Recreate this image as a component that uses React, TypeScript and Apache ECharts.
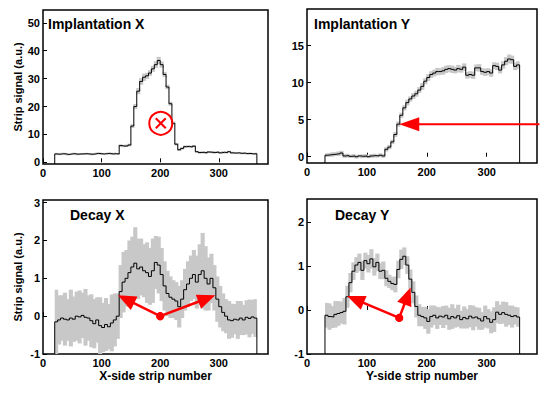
import React, { useEffect, useRef } from 'react';
import * as echarts from 'echarts';

const FONT = "'Liberation Sans', Arial, Helvetica, sans-serif";
const RED = '#ff0000';
const BAND = '#c8c8c8';

// Strip bins are 5 strips wide; each array starts at its first strip
const BIN_WIDTH = 5;
const X_AXIS_MAX = 384;
const X_TICK_STEP = 100;

// ---------- Implantation X ----------
const IMPL_X_FIRST_STRIP = 20;
const IMPL_X_SIGNAL = [
  3.0, 2.9, 3.1, 3.0, 2.8, 3.0, 3.1, 2.9, 3.0, 3.0, 3.1, 3.0, 2.9, 3.0, 3.2, 3.1, 3.0, 3.1, 3.2, 3.0, 3.1, 3.0,
  6.0, 5.8, 5.9, 6.2,
  13, 20, 25.5, 29, 30.5, 31, 32, 33.5, 35, 36.5, 35, 31.5, 27, 21, 14, 6.5, 4.5, 5.0, 5.6, 5.7, 5.5, 5.8,
  3.8, 3.5, 3.6, 3.4, 3.7, 3.6, 3.5, 3.7, 3.4, 3.6, 3.5, 3.8, 3.4, 3.3, 3.4, 3.2, 3.3, 3.1, 3.2, 3.0, 3.1,
];
const IMPL_X_ERROR = [
  0.4, 0.35, 0.35, 0.4, 0.35, 0.3, 0.35, 0.4, 0.35, 0.35, 0.3, 0.35, 0.4, 0.35, 0.35, 0.4, 0.35, 0.3, 0.35, 0.4, 0.35, 0.35,
  0.45, 0.4, 0.45, 0.5,
  0.7, 0.9, 1.1, 1.2, 1.3, 1.1, 1.0, 1.1, 1.2, 1.3, 1.1, 0.9, 0.8, 0.7, 0.6, 0.5, 0.45, 0.4, 0.45, 0.4, 0.45, 0.4,
  0.35, 0.4, 0.35, 0.4, 0.35, 0.35, 0.4, 0.35, 0.35, 0.4, 0.35, 0.35, 0.4, 0.35, 0.3, 0.35, 0.35, 0.3, 0.35, 0.3, 0.35,
];
const IMPL_X_MARKER = [[201, 14]];

// ---------- Implantation Y ----------
const IMPL_Y_FIRST_STRIP = 30;
const IMPL_Y_SIGNAL = [
  0.2, 0.25, 0.3, 0.35, 0.4, 0.5, 0.1, 0.15, 0.05, 0.1, 0.0, 0.1, 0.05, 0.1, 0.0, 0.1, 0.15, 0.1, 0.2, 0.1,
  1.0, 1.3, 2.0, 3.0, 4.4, 5.6, 6.6, 7.3, 7.8, 8.2, 8.5, 9.0, 9.5, 10.2, 10.7, 11.1, 11.3, 11.5, 11.5, 11.6,
  11.8, 11.9, 11.8, 11.7, 11.9, 11.8, 12.1, 11.0, 11.1, 11.0, 12.0, 12.0, 11.5, 11.4, 11.5, 11.3, 12.3, 12.2, 11.7,
  12.4, 12.9, 13.2, 13.1, 12.2, 12.4,
];
const IMPL_Y_ERROR = [
  0.25, 0.25, 0.3, 0.25, 0.3, 0.3, 0.25, 0.25, 0.2, 0.25, 0.25, 0.2, 0.25, 0.25, 0.2, 0.25, 0.25, 0.2, 0.25, 0.25,
  0.3, 0.3, 0.3, 0.35, 0.35, 0.35, 0.35, 0.4, 0.35, 0.4, 0.4, 0.4, 0.45, 0.4, 0.45, 0.45, 0.45, 0.5, 0.45, 0.5,
  0.5, 0.45, 0.5, 0.45, 0.5, 0.45, 0.5, 0.45, 0.45, 0.5, 0.45, 0.5, 0.45, 0.5, 0.45, 0.5, 0.45, 0.5, 0.45, 0.5,
  0.55, 0.6, 0.55, 0.5, 0.5,
];
// arrow: [tailStrip, tailSignal, tipStrip, tipSignal]
const IMPL_Y_ARROWS = [[388, 4.4, 154, 4.4]];

// ---------- Decay X ----------
const DECAY_X_FIRST_STRIP = 20;
const DECAY_X_SIGNAL = [
  -0.15, -0.1, -0.05, -0.08, -0.1, -0.05, -0.08, 0.0, -0.02, 0.02, -0.03, -0.05, -0.12, -0.2, -0.1, -0.25, -0.3, -0.22,
  -0.28, -0.18, -0.1, 0.0,
  0.65, 0.9, 1.0, 1.15, 1.3, 1.4, 1.25, 1.3, 1.2, 1.15, 1.05, 1.2, 1.42, 1.35, 1.1, 0.8, 0.6,
  0.5, 0.45, 0.4, 0.25, 0.45, 0.7, 0.85, 1.0, 1.1, 0.9, 1.1, 1.2, 1.0, 0.85, 1.0, 0.75, 0.45, 0.25,
  0.1, 0.0, -0.1, -0.12, -0.08, -0.1, -0.05, -0.1, -0.03, -0.06, -0.02, -0.05,
];
const DECAY_X_ERROR = [
  0.85, 0.65, 0.6, 0.7, 0.55, 0.75, 0.6, 0.65, 0.7, 0.6, 0.75, 0.6, 0.7, 0.65, 0.6, 0.75, 0.65, 0.7, 0.6, 0.75, 0.7, 0.6,
  0.7, 0.8, 0.75, 0.85, 0.8, 0.95, 0.8, 0.75, 0.7, 0.8, 0.75, 0.85, 0.7, 0.75, 0.7, 0.65, 0.6,
  0.55, 0.5, 0.5, 0.55, 0.5, 0.55, 0.6, 0.6, 0.65, 0.7, 0.8, 1.0, 0.85, 0.7, 0.65, 0.6, 0.6, 0.55,
  0.5, 0.45, 0.5, 0.45, 0.4, 0.5, 0.45, 0.4, 0.45, 0.5, 0.45, 0.5,
];
const DECAY_X_ARROWS = [
  [200, 0, 128, 0.55],
  [200, 0, 294, 0.55],
];

// ---------- Decay Y ----------
const DECAY_Y_FIRST_STRIP = 30;
const DECAY_Y_SIGNAL = [
  -0.12, -0.15, -0.16, -0.1, -0.08, -0.06, -0.03,
  0.3, 0.62, 0.88, 1.02, 1.08, 0.9, 1.12, 1.05, 1.16, 0.98, 1.08, 0.88, 0.9, 0.72, 0.65, 0.6, 0.58, 0.92, 1.15, 1.22,
  1.02, 0.7, 0.4, 0.08,
  -0.12, -0.15, -0.18, -0.26, -0.15, -0.12, -0.18, -0.14, -0.16, -0.12, -0.2, -0.15, -0.18, -0.13, -0.22, -0.17, -0.2,
  -0.14, -0.18, -0.16, -0.2, -0.25, -0.15, -0.2, -0.28, -0.22, -0.05, -0.1, -0.06, -0.1, -0.12, -0.15, -0.13, -0.16,
];
const DECAY_Y_ERROR = [
  0.28, 0.3, 0.25, 0.3, 0.28, 0.25, 0.3,
  0.25, 0.22, 0.2, 0.18, 0.2, 0.22, 0.18, 0.2, 0.22, 0.2, 0.2, 0.18, 0.2, 0.18, 0.15, 0.15, 0.18, 0.2, 0.22, 0.2, 0.2,
  0.22, 0.25, 0.25,
  0.25, 0.22, 0.25, 0.28, 0.25, 0.22, 0.25, 0.2, 0.25, 0.22, 0.25, 0.28, 0.22, 0.25, 0.2, 0.25, 0.22, 0.25, 0.28, 0.22,
  0.25, 0.2, 0.25, 0.22, 0.25, 0.28, 0.25, 0.22, 0.25, 0.28, 0.22, 0.25, 0.2, 0.22,
];
const DECAY_Y_ARROWS = [
  [154, -0.18, 67, 0.32],
  [154, -0.18, 173, 0.51],
];

// ---------- layout (positions & styles only) ----------
const PANELS = [
  {
    title: 'Implantation X', first: IMPL_X_FIRST_STRIP, signal: IMPL_X_SIGNAL, error: IMPL_X_ERROR,
    yMin: -0.6, yMax: 54.6, grid: { left: 43, top: 10, width: 225, height: 154 }, titlePos: [48, 17],
    yName: 'Strip signal (a.u.)', xName: '', hideMinLabel: true,
  },
  {
    title: 'Implantation Y', first: IMPL_Y_FIRST_STRIP, signal: IMPL_Y_SIGNAL, error: IMPL_Y_ERROR,
    yMin: -0.85, yMax: 19.95, grid: { left: 307, top: 9, width: 230, height: 154 }, titlePos: [314, 17],
    yName: '', xName: '', hideMinLabel: true,
  },
  {
    title: 'Decay X', first: DECAY_X_FIRST_STRIP, signal: DECAY_X_SIGNAL, error: DECAY_X_ERROR,
    yMin: -1, yMax: 3.07, grid: { left: 43, top: 200, width: 225, height: 154 }, titlePos: [70, 208],
    yName: 'Strip signal (a.u.)', xName: 'X-side strip number', hideMinLabel: false,
  },
  {
    title: 'Decay Y', first: DECAY_Y_FIRST_STRIP, signal: DECAY_Y_SIGNAL, error: DECAY_Y_ERROR,
    yMin: -1, yMax: 2.52, grid: { left: 307, top: 199, width: 230, height: 155 }, titlePos: [335, 208],
    yName: '', xName: 'Y-side strip number', hideMinLabel: false,
  },
];

function lineData(first: number, values: number[], floor: number) {
  const pts: number[][] = [[first, floor]];
  values.forEach((v, i) => pts.push([first + i * BIN_WIDTH, v]));
  pts.push([first + values.length * BIN_WIDTH, floor]);
  return pts;
}

// each bin: [binStart, binEnd, low, high]
function bandData(first: number, values: number[], errors: number[]) {
  return values.map((v, i) => {
    const x = first + i * BIN_WIDTH;
    return [x, x + BIN_WIDTH, v - errors[i], v + errors[i]];
  });
}

function bandSeries(idx: number, bins: number[][]) {
  const last = bins.length - 1;
  return {
    type: 'custom',
    xAxisIndex: idx,
    yAxisIndex: idx,
    clip: true,
    silent: true,
    z: 1,
    data: bins,
    encode: { x: [0, 1], y: [2, 3] },
    renderItem: (params: any, api: any) => {
      const cs = params.coordSys;
      const p0 = api.coord([api.value(0), api.value(3)]);
      const p1 = api.coord([api.value(1), api.value(2)]);
      const top = Math.max(cs.y, Math.min(p0[1], p1[1]));
      const bottom = Math.min(cs.y + cs.height, Math.max(p0[1], p1[1]));
      const left = Math.max(cs.x, p0[0] - (params.dataIndex === 0 ? 0 : 0.6));
      const right = Math.min(cs.x + cs.width, p1[0] + (params.dataIndex === last ? 0 : 0.6));
      return {
        type: 'rect',
        shape: { x: left, y: top, width: Math.max(0, right - left), height: Math.max(0, bottom - top) },
        style: { fill: BAND, stroke: null },
      };
    },
  };
}

function arrowSeries(idx: number, arrows: number[][], withDot: boolean, lineWidth: number, headLen: number, headHalf: number) {
  return {
    type: 'custom',
    xAxisIndex: idx,
    yAxisIndex: idx,
    clip: false,
    silent: true,
    z: 5,
    data: arrows,
    encode: { x: [0, 2], y: [1, 3] },
    renderItem: (_params: any, api: any) => {
      const a = api.coord([api.value(0), api.value(1)]);
      const b = api.coord([api.value(2), api.value(3)]);
      const dx = b[0] - a[0];
      const dy = b[1] - a[1];
      const len = Math.hypot(dx, dy) || 1;
      const ux = dx / len;
      const uy = dy / len;
      const bx = b[0] - ux * headLen;
      const by = b[1] - uy * headLen;
      const children: any[] = [
        {
          type: 'line',
          shape: { x1: a[0], y1: a[1], x2: bx + ux * 2, y2: by + uy * 2 },
          style: { stroke: RED, lineWidth, fill: null },
        },
        {
          type: 'polygon',
          shape: { points: [[b[0], b[1]], [bx - uy * headHalf, by + ux * headHalf], [bx + uy * headHalf, by - ux * headHalf]] },
          style: { fill: RED, stroke: null },
        },
      ];
      if (withDot) {
        children.push({ type: 'circle', shape: { cx: a[0], cy: a[1], r: 4 }, style: { fill: RED, stroke: null } });
      }
      return { type: 'group', children };
    },
  };
}

function markerSeries(idx: number, points: number[][]) {
  return {
    type: 'custom',
    xAxisIndex: idx,
    yAxisIndex: idx,
    clip: false,
    silent: true,
    z: 5,
    data: points,
    encode: { x: 0, y: 1 },
    renderItem: (_params: any, api: any) => {
      const c = api.coord([api.value(0), api.value(1)]);
      return {
        type: 'group',
        children: [
          { type: 'circle', shape: { cx: c[0], cy: c[1], r: 11.5 }, style: { fill: 'none', stroke: RED, lineWidth: 2 } },
          { type: 'line', shape: { x1: c[0] - 5, y1: c[1] - 5, x2: c[0] + 5, y2: c[1] + 5 }, style: { stroke: RED, lineWidth: 2 } },
          { type: 'line', shape: { x1: c[0] - 5, y1: c[1] + 5, x2: c[0] + 5, y2: c[1] - 5 }, style: { stroke: RED, lineWidth: 2 } },
        ],
      };
    },
  };
}

function buildOption() {
  const grids: any[] = [];
  const xAxes: any[] = [];
  const yAxes: any[] = [];
  const titles: any[] = [];
  const series: any[] = [];

  PANELS.forEach((p, i) => {
    grids.push({
      ...p.grid,
      show: true,
      borderColor: '#000',
      borderWidth: 1.5,
      backgroundColor: '#fff',
      containLabel: false,
      outerBoundsMode: 'none',
    });
    titles.push({
      text: p.title,
      left: p.titlePos[0],
      top: p.titlePos[1],
      padding: 0,
      textStyle: { fontSize: 14, fontWeight: 'bold', color: '#000', fontFamily: FONT },
    });
    xAxes.push({
      gridIndex: i,
      type: 'value',
      min: 0,
      max: X_AXIS_MAX,
      interval: X_TICK_STEP,
      name: p.xName,
      nameLocation: 'middle',
      nameGap: 16,
      nameTextStyle: { fontSize: 12, fontWeight: 'bold', color: '#000', fontFamily: FONT },
      axisLine: { show: false },
      axisTick: { show: true, inside: true, length: 4, lineStyle: { color: '#000', width: 1 } },
      axisLabel: {
        margin: 3,
        showMaxLabel: false,
        fontSize: 11,
        fontWeight: 'bold',
        color: '#000',
        fontFamily: FONT,
      },
      splitLine: { show: false },
    });
    yAxes.push({
      gridIndex: i,
      type: 'value',
      min: p.yMin,
      max: p.yMax,
      splitNumber: 5,
      name: p.yName,
      nameLocation: 'middle',
      nameGap: 20,
      nameTextStyle: { fontSize: 11, fontWeight: 'bold', color: '#000', fontFamily: FONT },
      axisLine: { show: false },
      axisTick: { show: true, inside: true, length: 4, lineStyle: { color: '#000', width: 1 } },
      axisLabel: {
        margin: 3,
        showMinLabel: !p.hideMinLabel,
        showMaxLabel: false,
        fontSize: 11,
        fontWeight: 'bold',
        color: '#000',
        fontFamily: FONT,
      },
      splitLine: { show: false },
    });

    series.push(bandSeries(i, bandData(p.first, p.signal, p.error)));
    series.push({
      type: 'line',
      xAxisIndex: i,
      yAxisIndex: i,
      data: lineData(p.first, p.signal, p.yMin),
      step: 'end',
      symbol: 'none',
      silent: true,
      lineStyle: { color: '#000', width: 1 },
      z: 3,
    });
  });

  series.push(markerSeries(0, IMPL_X_MARKER));
  series.push(arrowSeries(1, IMPL_Y_ARROWS, false, 2, 20, 7));
  series.push(arrowSeries(2, DECAY_X_ARROWS, true, 2.5, 18, 7.5));
  series.push(arrowSeries(3, DECAY_Y_ARROWS, true, 2.5, 18, 7.5));

  return {
    animation: false,
    backgroundColor: '#fff',
    textStyle: { fontFamily: FONT },
    title: titles,
    grid: grids,
    xAxis: xAxes,
    yAxis: yAxes,
    series,
  };
}

export default function App() {
  const ref = useRef<HTMLDivElement>(null);
  useEffect(() => {
    if (!ref.current) return;
    const chart = echarts.init(ref.current, null, { renderer: 'svg' });
    chart.setOption(buildOption() as any);
    return () => chart.dispose();
  }, []);
  return (
    <div
      ref={ref}
      style={{ position: 'absolute', left: 0, top: 0, width: 551, height: 396, background: '#fff' }}
    />
  );
}
